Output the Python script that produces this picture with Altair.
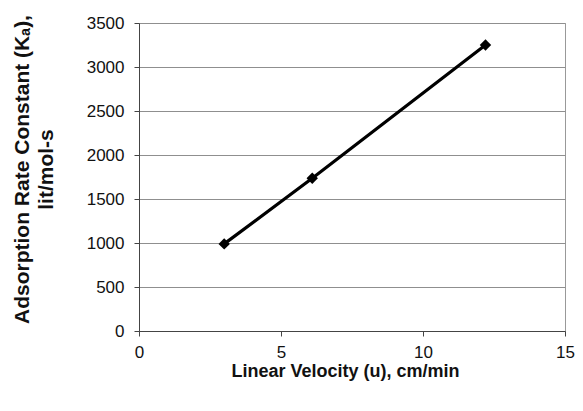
import altair as alt
import pandas as pd

velocity = [3.0, 6.1, 12.2]
rate_constant = [990, 1735, 3250]
x_ticks = [0, 5, 10, 15]
y_ticks = [0, 500, 1000, 1500, 2000, 2500, 3000, 3500]

df = pd.DataFrame({"u": velocity, "ka": rate_constant})

FONT = "Liberation Sans"

x_enc = alt.X(
    "u:Q",
    scale=alt.Scale(domain=[0, 15], nice=False),
    axis=alt.Axis(
        values=x_ticks, format="d", labelFlush=False,
        title="Linear Velocity (u), cm/min",
        titleFont=FONT, titleFontSize=18, titleFontWeight="bold", titleColor="#111",
        titleX=206, titleY=45, titleBaseline="alphabetic", titleAnchor="start", titleAlign="center",
        labelFont=FONT, labelFontSize=17, labelColor="#111", labelPadding=8,
        tickSize=5, tickColor="#444", domainColor="#444",
        grid=False,
    ),
)
y_enc = alt.Y(
    "ka:Q",
    scale=alt.Scale(domain=[0, 3500], nice=False),
    axis=alt.Axis(
        values=y_ticks, format="d", labelFlush=False,
        title=["Adsorption Rate Constant (Kₐ),", "lit/mol-s"],
        titleFont=FONT, titleFontSize=21, titleFontWeight="bold", titleColor="#111",
        titleAngle=-90, titleX=-111, titleY=146, titleBaseline="alphabetic",
        titleAlign="center", titleAnchor="start", titleLineHeight=24,
        labelFont=FONT, labelFontSize=17, labelColor="#111", labelPadding=10,
        tickSize=5, tickColor="#444", domainColor="#444",
        grid=True, gridColor="#8f8f8f", gridWidth=1,
    ),
)

base = alt.Chart(df).encode(x=x_enc, y=y_enc)
line = base.mark_line(color="black", strokeWidth=3.2)
pts = base.mark_point(shape="diamond", filled=True, color="black", size=130, opacity=1)

chart = (
    alt.layer(line, pts)
    .properties(
        width=426,
        height=308,
        autosize=alt.AutoSizeParams(type="none"),
        padding={"left": 131, "top": 15, "right": 10, "bottom": 80},
        background="white",
    )
    .configure_view(stroke="#999", strokeWidth=1)
)

chart.save("out.html", embed_options={"renderer": "svg", "actions": False})
